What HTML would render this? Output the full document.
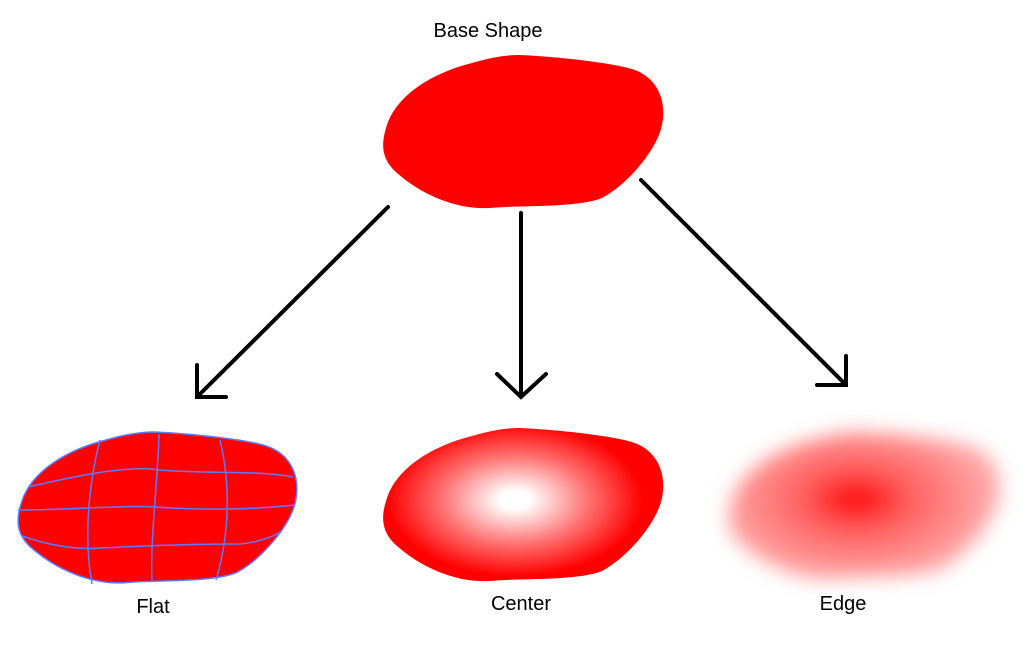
<!DOCTYPE html>
<html><head><style>
html,body{margin:0;padding:0;background:#fff;}
svg{display:block;}
text{font-family:"Liberation Sans",sans-serif;font-size:20px;fill:#000;}
</style></head><body>
<svg width="1035" height="655" viewBox="0 0 1035 655">
<defs>
<path id="blob" d="M138,0 C180,2 230,8 250,14 C275,22 285,45 280,70 C275,95 245,130 220,143 C195,153 140,150 108,153 C75,155 40,140 15,118 C0,105 -2,90 5,70 C15,40 50,18 90,8 C110,2 125,0 138,0 Z"/>
<radialGradient id="cg" cx="133" cy="72" r="150" gradientUnits="userSpaceOnUse" gradientTransform="translate(133 72) scale(1 0.6) translate(-133 -72)">
<stop offset="0" stop-color="#fff"/><stop offset="0.1" stop-color="#fff"/><stop offset="0.5" stop-color="#ff6e6e"/><stop offset="0.85" stop-color="#f00"/></radialGradient>
<radialGradient id="eg" cx="133" cy="70" r="140" gradientUnits="userSpaceOnUse" gradientTransform="translate(133 70) scale(1 0.6) translate(-133 -70)">
<stop offset="0" stop-color="#f00"/><stop offset="0.4" stop-color="#ff6060"/><stop offset="1" stop-color="#ffa8a8"/></radialGradient>
<filter id="bl" x="-20%" y="-30%" width="140%" height="160%"><feGaussianBlur stdDeviation="10"/></filter>
</defs>
<text x="488" y="37" text-anchor="middle">Base Shape</text>
<use href="#blob" transform="translate(382,55)" fill="#ff0000"/>
<g stroke="#000" stroke-width="4" fill="none" stroke-linecap="round">
<line x1="388" y1="207" x2="198" y2="396"/>
<polyline points="197,365 197,397 226,397"/>
<line x1="521" y1="213" x2="521" y2="396"/>
<polyline points="497,374 521,397 546,374"/>
<line x1="641" y1="180" x2="845" y2="384"/>
<polyline points="846,356 846,385 817,385"/>
</g>
<g transform="translate(17,432) scale(0.995,0.985)">
<use href="#blob" fill="#ff0000" stroke="#5a7cff" stroke-width="1.5"/>
</g>
<g stroke="#5a7cff" stroke-width="1.5" fill="none">
<path d="M100,440 C92,470 82,530 92,584"/>
<path d="M159,434 C158,480 150,540 152,581"/>
<path d="M220,440 C232,490 228,540 216,580"/>
<path d="M28,487 C80,475 130,465 160,470 C200,474 260,470 293,477"/>
<path d="M18,510 C70,510 120,505 155,507 C200,510 250,510 295,505"/>
<path d="M22,536 C50,546 80,550 100,548 C160,545 200,544 240,544 C260,542 275,536 282,531"/>
</g>
<use href="#blob" transform="translate(382,428)" fill="url(#cg)"/>
<use href="#blob" transform="translate(727,432) scale(0.97,0.96)" fill="url(#eg)" filter="url(#bl)"/>
<text x="153" y="613" text-anchor="middle">Flat</text>
<text x="521" y="610" text-anchor="middle">Center</text>
<text x="843" y="610" text-anchor="middle">Edge</text>
</svg>
</body></html>
